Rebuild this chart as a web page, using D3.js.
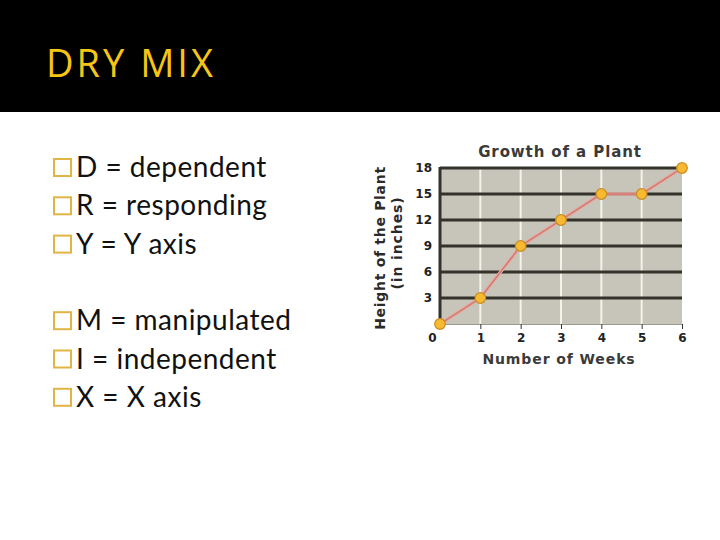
<!DOCTYPE html>
<html>
<head>
<meta charset="utf-8">
<script src="https://d3js.org/d3.v7.min.js"></script>
<style>
  body { margin: 0; background: #fff; }
</style>
</head>
<body>
<div id="slide"></div>
<script>
// chart data
var weeks = [0, 1, 2, 3, 4, 5, 6];
var heights = [0, 3, 9, 12, 15, 15, 18];
var yTicks = [3, 6, 9, 12, 15, 18];
var xTicks = [0, 1, 2, 3, 4, 5, 6];

// slide text
var slideTitle = "DRY MIX";
var bullets = ["D = dependent", "R = responding", "Y = Y axis", "", "M = manipulated", "I = independent", "X = X axis"];

var W = 720, H = 540;
var svg = d3.select("#slide").append("svg")
    .attr("width", W)
    .attr("height", H);

// black header band
svg.append("rect").attr("x", 0).attr("y", 0).attr("width", W).attr("height", 112).attr("fill", "#000");
svg.append("text")
    .attr("x", 46).attr("y", 77)
    .attr("fill", "#f6c516")
    .style("font-family", "'Open Sans', sans-serif")
    .style("font-size", "38px")
    .style("font-weight", "500")
    .style("letter-spacing", "3px")
    .text(slideTitle);

// bullet list
var list = svg.append("g");
bullets.forEach(function (b, i) {
    if (b === "") return;
    var y = 177 + i * 38.3;
    list.append("rect")
        .attr("x", 54).attr("y", y - 18)
        .attr("width", 17).attr("height", 17)
        .attr("fill", "none")
        .attr("stroke", "#e1b545")
        .attr("stroke-width", 2);
    list.append("text")
        .attr("x", 76).attr("y", y)
        .attr("fill", "#111")
        .style("font-family", "Lato, sans-serif")
        .style("font-size", "28px")
        .style("letter-spacing", "0.5px")
        .text(b);
});

// chart
var margin = {left: 440, top: 168};
var width = 242, height = 156;
var g = svg.append("g").attr("transform", "translate(" + margin.left + "," + margin.top + ")");

var x = d3.scaleLinear().domain([0, 6]).range([0, width]);
var y = d3.scaleLinear().domain([0, 18]).range([height, 0]);

g.append("rect").attr("width", width).attr("height", height).attr("fill", "#c7c5b9");

// vertical white grid
g.selectAll(".vgrid").data(xTicks.slice(1, -1)).enter().append("line")
    .attr("x1", function (d) { return x(d); }).attr("x2", function (d) { return x(d); })
    .attr("y1", 0).attr("y2", height)
    .attr("stroke", "#f4f3ea").attr("stroke-width", 2);

// horizontal dark grid
g.selectAll(".hgrid").data(yTicks).enter().append("line")
    .attr("x1", 0).attr("x2", width)
    .attr("y1", function (d) { return y(d); }).attr("y2", function (d) { return y(d); })
    .attr("stroke", "#33322b").attr("stroke-width", 3);

// left axis line
g.append("line").attr("x1", 0).attr("x2", 0).attr("y1", -1).attr("y2", height)
    .attr("stroke", "#33322b").attr("stroke-width", 3);

var tickFont = "'DejaVu Sans', Verdana, sans-serif";

// y axis
var yAxis = g.append("g").call(d3.axisLeft(y).tickValues(yTicks).tickSize(0).tickPadding(8).tickFormat(d3.format("d")));
yAxis.select(".domain").remove();
yAxis.selectAll("text").style("font-family", tickFont).style("font-size", "12px")
    .style("font-weight", "bold").attr("fill", "#222");

// x axis
var xAxis = g.append("g").attr("transform", "translate(0," + height + ")")
    .call(d3.axisBottom(x).tickValues(xTicks).tickSize(5).tickPadding(4).tickFormat(d3.format("d")));
xAxis.select(".domain").attr("stroke", "#9c9a90");
xAxis.selectAll("line").attr("stroke", "#333");
xAxis.selectAll("text").style("font-family", tickFont).style("font-size", "12px")
    .style("font-weight", "bold").attr("fill", "#222");
xAxis.select(".tick text").attr("dx", "-8");

// line + markers
var line = d3.line().x(function (d, i) { return x(weeks[i]); }).y(function (d) { return y(d); });
g.append("path").datum(heights).attr("d", line)
    .attr("fill", "none").attr("stroke", "#e6a8a0").attr("stroke-width", 3.5);
g.append("path").datum(heights).attr("d", line)
    .attr("fill", "none").attr("stroke", "#cf776f").attr("stroke-width", 1.3);
g.selectAll(".pt").data(heights).enter().append("circle")
    .attr("cx", function (d, i) { return x(weeks[i]); })
    .attr("cy", function (d) { return y(d); })
    .attr("r", 5.3)
    .attr("fill", "#f7b92f").attr("stroke", "#c98c22").attr("stroke-width", 1.2);

// chart titles
var labFont = "'DejaVu Sans', Verdana, sans-serif";
svg.append("text").attr("x", 560).attr("y", 157).attr("text-anchor", "middle")
    .style("font-family", labFont).style("font-size", "15px").style("font-weight", "bold")
    .style("letter-spacing", "0.9px")
    .attr("fill", "#3a3a3a").text("Growth of a Plant");
svg.append("text").attr("x", 559).attr("y", 364).attr("text-anchor", "middle")
    .style("font-family", labFont).style("font-size", "14px").style("font-weight", "bold")
    .style("letter-spacing", "0.9px")
    .attr("fill", "#3a3a3a").text("Number of Weeks");
svg.append("text").attr("transform", "translate(385,248) rotate(-90)").attr("text-anchor", "middle")
    .style("font-family", labFont).style("font-size", "14px").style("font-weight", "bold")
    .style("letter-spacing", "0.7px")
    .attr("fill", "#2a2a2a").text("Height of the Plant");
svg.append("text").attr("transform", "translate(402,243) rotate(-90)").attr("text-anchor", "middle")
    .style("font-family", labFont).style("font-size", "14px").style("font-weight", "bold")
    .style("letter-spacing", "0.9px")
    .attr("fill", "#2a2a2a").text("(in inches)");
</script>
</body>
</html>
